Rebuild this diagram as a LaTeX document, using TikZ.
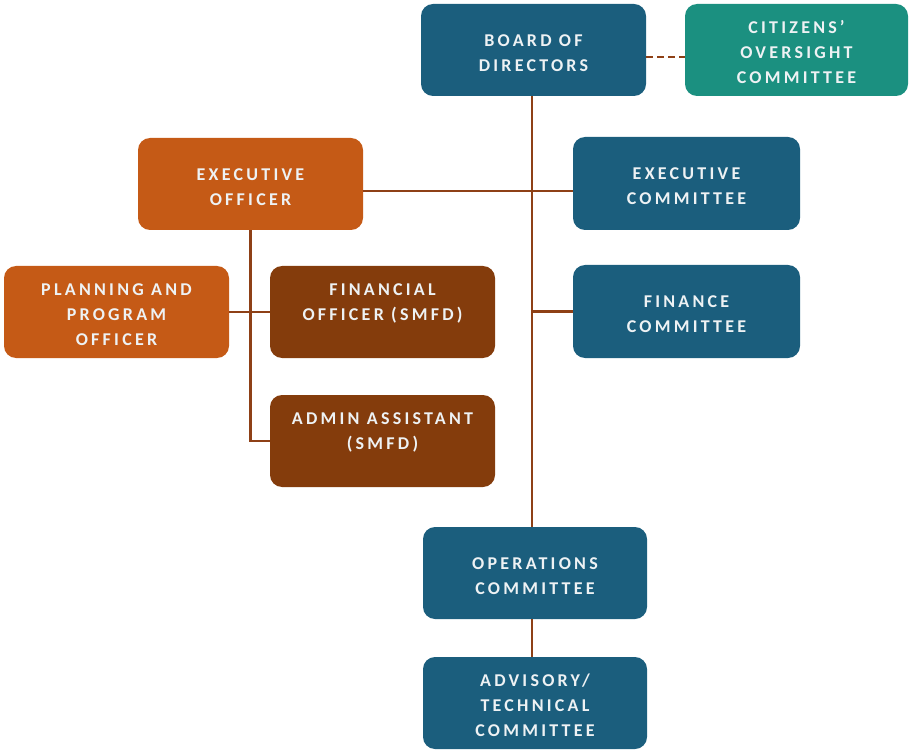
\documentclass[tikz,border=0pt]{standalone}
\usepackage{fontspec}
\setmainfont[LetterSpace=18]{Carlito}
\definecolor{cblue}{HTML}{1B5E7D}
\definecolor{cteal}{HTML}{1B9080}
\definecolor{corange}{HTML}{C55A16}
\definecolor{cbrown}{HTML}{843C0C}
\definecolor{cline}{HTML}{8E4016}
\definecolor{ctext}{HTML}{EEF2F4}
\newcommand{\tp}{\rule{0pt}{17.5pt}}
\begin{document}
\begin{tikzpicture}[x=1pt,y=-1pt,
  box/.style={rectangle,rounded corners=12pt,minimum width=225pt,minimum height=92pt,
    inner sep=0pt,align=center,text=ctext,
    font=\fontsize{18pt}{25pt}\selectfont\bfseries},
  bluebox/.style={box,fill=cblue},
  tealbox/.style={box,fill=cteal},
  orangebox/.style={box,fill=corange},
  brownbox/.style={box,fill=cbrown},
  conn/.style={draw=cline,line width=2.5pt},
  dashconn/.style={conn,dash pattern=on 7pt off 4pt}]
\useasboundingbox (0,0) rectangle (910,751);
\node[bluebox] (board) at (533.5,50) {\tp BOARD OF\\DIRECTORS};
\node[tealbox,minimum width=223pt] (cit) at (796.5,50) {\tp CITIZENS'\\OVERSIGHT\\COMMITTEE};
\node[orangebox] (exo) at (250.5,184) {\tp EXECUTIVE\\OFFICER};
\node[bluebox,minimum width=227pt,minimum height=93pt] (exc) at (686.5,183.5) {\tp EXECUTIVE\\COMMITTEE};
\node[orangebox] (plan) at (116.5,312) {\tp PLANNING AND\\PROGRAM\\OFFICER};
\node[brownbox] (fino) at (382.5,312) {\tp FINANCIAL\\OFFICER (SMFD)\\\mbox{}};
\node[brownbox] (adm) at (382.5,441) {\tp ADMIN ASSISTANT\\(SMFD)\\\mbox{}};
\node[bluebox,minimum width=227pt,minimum height=93pt] (finc) at (686.5,311.5) {\tp FINANCE\\COMMITTEE};
\node[bluebox,minimum width=224pt] (ops) at (535,573) {\tp OPERATIONS\\COMMITTEE};
\node[bluebox,minimum width=224pt] (adv) at (535,703) {\tp ADVISORY/\\TECHNICAL\\COMMITTEE};
\coordinate (trunk) at (532,0);
\coordinate (eorow) at (0,191);
\coordinate (dashrow) at (0,57);
% connectors
\draw[conn] (trunk |- board.south) -- (trunk |- ops.north);
\draw[conn] (exo.east |- eorow) -- (exc.west |- eorow);
\draw[conn] (trunk |- finc.west) -- (finc.west);
\draw[conn] (exo.south) |- (adm.west);
\draw[conn] (plan.east) -- (fino.west);
\draw[conn] (trunk |- ops.south) -- (trunk |- adv.north);
\draw[dashconn] (board.east |- dashrow) -- (cit.west |- dashrow);
\end{tikzpicture}
\end{document}
